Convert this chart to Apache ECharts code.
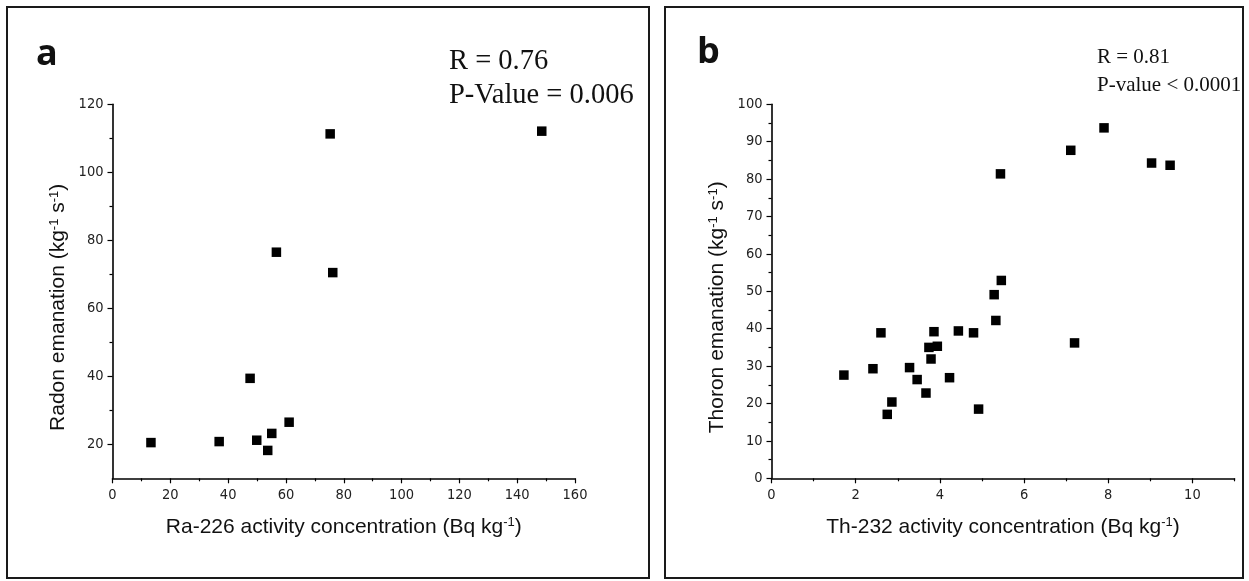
<!DOCTYPE html>
<html>
<head>
<meta charset="utf-8">
<script src="https://cdn.jsdelivr.net/npm/echarts@6/dist/echarts.min.js"></script>
<style>
  html, body { margin: 0; padding: 0; background: #fff; }
  #chart { width: 1249px; height: 581px; }
</style>
</head>
<body>
<div id="chart"></div>
<script>
// ---- Panel a data: Ra-226 (Bq/kg) vs Radon emanation ----
const raActivity = [13.3, 36.9, 47.6, 49.9, 53.7, 55.1, 56.7, 61.1, 75.3, 76.2, 148.5];
const radonEmanation = [20.5, 20.8, 39.4, 21.2, 18.2, 23.2, 76.5, 26.5, 111.3, 70.5, 112.1];

// ---- Panel b data: Th-232 (Bq/kg) vs Thoron emanation ----
const thActivity = [1.72, 2.41, 2.60, 2.75, 2.86, 3.28, 3.46, 3.67, 3.74, 3.79, 3.86, 3.94, 4.23, 4.44, 4.80, 4.92, 5.29, 5.33, 5.44, 5.46, 7.11, 7.20, 7.90, 9.03, 9.47];
const thoronEmanation = [27.6, 29.3, 38.9, 17.1, 20.4, 29.6, 26.4, 22.8, 35.0, 31.9, 39.2, 35.3, 26.9, 39.4, 38.9, 18.5, 49.1, 42.2, 81.4, 52.9, 87.7, 36.2, 93.7, 84.3, 83.7];

// ---- Tick values ----
const aXMajor = [0, 20, 40, 60, 80, 100, 120, 140, 160];
const aXMinor = [10, 30, 50, 70, 90, 110, 130, 150];
const aYMajor = [20, 40, 60, 80, 100, 120];
const aYMinor = [30, 50, 70, 90, 110];
const bXMajor = [0, 2, 4, 6, 8, 10];
const bXMinor = [1, 3, 5, 7, 9, 11];
const bYMajor = [0, 10, 20, 30, 40, 50, 60, 70, 80, 90, 100];
const bYMinor = [5, 15, 25, 35, 45, 55, 65, 75, 85, 95];

// ---- Texts ----
const titleA = 'Ra-226 activity concentration (Bq kg{sup|-1})';
const yTitleA = 'Radon emanation (kg{sup|-1} s{sup|-1})';
const titleB = 'Th-232 activity concentration (Bq kg{sup|-1})';
const yTitleB = 'Thoron emanation (kg{sup|-1} s{sup|-1})';
const statsA = ['R = 0.76', 'P-Value = 0.006'];
const statsB = ['R = 0.81', 'P-value < 0.0001'];

const SANS = '"Liberation Sans", Arial, sans-serif';
const NARROW = '"Liberation Sans Narrow", "Arial Narrow", "DejaVu Sans Condensed", sans-serif';
const SERIF = '"Liberation Serif", "Times New Roman", serif';

const richSup = { sup: { fontSize: 13, fontFamily: SANS, color: '#111', verticalAlign: 'top', lineHeight: 11 } };

function zip(xs, ys) { return xs.map((x, i) => [x, ys[i]]); }

function majorAxis(grid, min, max, major, dim, name, nameGap, extra) {
  return {
    type: 'value', gridIndex: grid, min: min, max: max,
    position: dim === 'x' ? 'bottom' : 'left',
    splitLine: { show: false },
    axisLine: { show: true, onZero: false, lineStyle: { color: '#000', width: 1.6 } },
    axisTick: { show: true, inside: false, length: 5, customValues: major, lineStyle: { color: '#000', width: 1.2 } },
    axisLabel: { show: true, customValues: major, color: '#222', fontFamily: NARROW, fontSize: 14.5, margin: dim === 'x' ? 9 : 9 },
    name: name, nameLocation: 'middle', nameGap: nameGap,
    nameTextStyle: Object.assign({ fontFamily: SANS, fontSize: 21, color: '#111', rich: richSup }, extra || {})
  };
}
function minorAxis(grid, min, max, minor, dim) {
  return {
    type: 'value', gridIndex: grid, min: min, max: max,
    position: dim === 'x' ? 'bottom' : 'left', offset: 0,
    splitLine: { show: false },
    axisLine: { show: false, onZero: false },
    axisTick: { show: true, inside: false, length: 3, customValues: minor, lineStyle: { color: '#000', width: 1.2 } },
    axisLabel: { show: false }
  };
}

const chart = echarts.init(document.getElementById('chart'), null, { renderer: 'canvas' });

const option = {
  animation: false,
  backgroundColor: '#ffffff',
  grid: [
    { left: 112.5, top: 104.3, width: 462.5, height: 374 },
    { left: 771.5, top: 104.3, width: 463, height: 374 }
  ],
  xAxis: [
    majorAxis(0, 0, 160, aXMajor, 'x', titleA, 38),
    minorAxis(0, 0, 160, aXMinor, 'x'),
    majorAxis(1, 0, 11, bXMajor, 'x', titleB, 38),
    minorAxis(1, 0, 11, bXMinor, 'x')
  ],
  yAxis: [
    majorAxis(0, 10, 120, aYMajor, 'y', yTitleA, 44, { padding: [0, 32, 0, 0] }),
    minorAxis(0, 10, 120, aYMinor, 'y'),
    majorAxis(1, 0, 100, bYMajor, 'y', yTitleB, 44, { padding: [0, 32, 0, 0] }),
    minorAxis(1, 0, 100, bYMinor, 'y')
  ],
  series: [
    {
      type: 'scatter', name: 'Radon', xAxisIndex: 0, yAxisIndex: 0,
      symbol: 'rect', symbolSize: 9.5,
      itemStyle: { color: '#000', opacity: 1 },
      data: zip(raActivity, radonEmanation)
    },
    {
      type: 'scatter', name: 'Thoron', xAxisIndex: 2, yAxisIndex: 2,
      symbol: 'rect', symbolSize: 9.5,
      itemStyle: { color: '#000', opacity: 1 },
      data: zip(thActivity, thoronEmanation)
    }
  ],
  graphic: [
    { type: 'rect', shape: { x: 7, y: 7, width: 642, height: 571 }, style: { fill: 'none', stroke: '#1a1a1a', lineWidth: 2 }, silent: true },
    { type: 'rect', shape: { x: 665, y: 7, width: 578, height: 571 }, style: { fill: 'none', stroke: '#1a1a1a', lineWidth: 2 }, silent: true },
    { type: 'text', x: 36, y: 55, style: { text: 'a', font: 'bold 36px "Open Sans", sans-serif', fill: '#111', verticalAlign: 'middle' } },
    { type: 'text', x: 697, y: 53, style: { text: 'b', font: 'bold 36px "Open Sans", sans-serif', fill: '#111', verticalAlign: 'middle' } },
    { type: 'text', x: 449, y: 62, style: { text: statsA[0], font: '28.5px ' + SERIF, fill: '#111', verticalAlign: 'middle' } },
    { type: 'text', x: 449, y: 96, style: { text: statsA[1], font: '28.5px ' + SERIF, fill: '#111', verticalAlign: 'middle' } },
    { type: 'text', x: 1097, y: 57.5, style: { text: statsB[0], font: '21px ' + SERIF, fill: '#111', verticalAlign: 'middle' } },
    { type: 'text', x: 1097, y: 85, style: { text: statsB[1], font: '21px ' + SERIF, fill: '#111', verticalAlign: 'middle' } }
  ]
};
chart.setOption(option);
</script>
</body>
</html>
